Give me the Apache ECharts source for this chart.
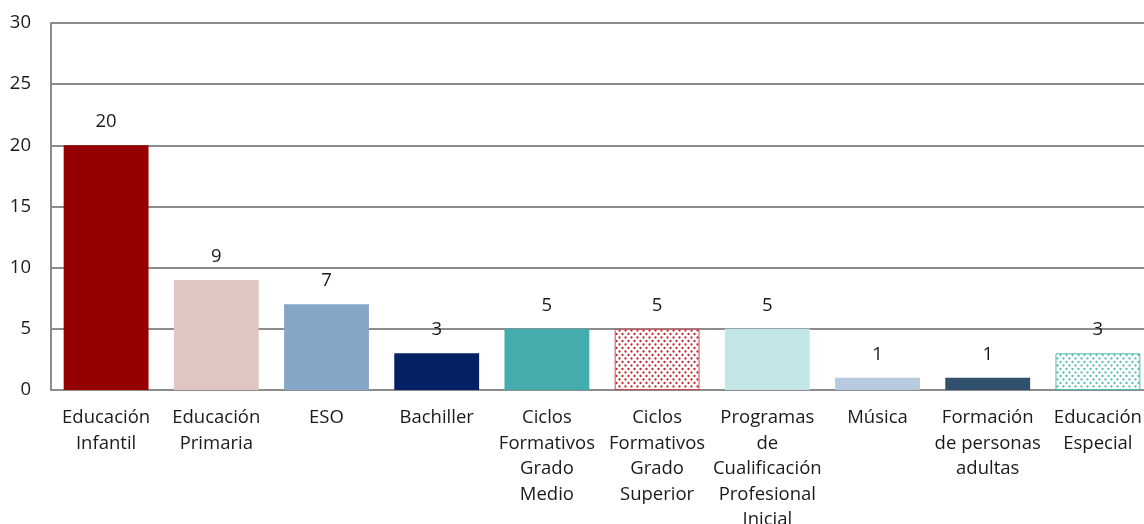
<!DOCTYPE html>
<html>
<head>
<meta charset="utf-8">
<script src="https://cdn.jsdelivr.net/npm/echarts@6/dist/echarts.min.js"></script>
<style>
  html, body { margin: 0; padding: 0; background: #fff; overflow: hidden; }
  #chart { width: 1144px; height: 524px; }
</style>
</head>
<body>
<div id="chart"></div>
<script>
// Categories (line breaks as shown under the axis)
const categories = [
  'Educación\nInfantil',
  'Educación\nPrimaria',
  'ESO',
  'Bachiller',
  'Ciclos\nFormativos\nGrado\nMedio',
  'Ciclos\nFormativos\nGrado\nSuperior',
  'Programas\nde\nCualificación\nProfesional\nInicial',
  'Música',
  'Formación\nde personas\nadultas',
  'Educación\nEspecial'
];
const values = [20, 9, 7, 3, 5, 5, 5, 1, 1, 3];
const yTicks = [0, 5, 10, 15, 20, 25, 30];

// Dotted fill used by the two patterned bars
function dotPattern(dot) {
  const c = document.createElement('canvas');
  c.width = 6; c.height = 7;
  const g = c.getContext('2d');
  g.fillStyle = '#ffffff';
  g.fillRect(0, 0, 6, 7);
  g.fillStyle = dot;
  g.beginPath(); g.arc(1.5, 1.5, 1.15, 0, Math.PI * 2); g.fill();
  g.beginPath(); g.arc(4.5, 5, 1.15, 0, Math.PI * 2); g.fill();
  return { image: c, repeat: 'repeat' };
}

const styles = [
  { color: '#960000' },
  { color: '#e0c6c0' },
  { color: '#86a6c8' },
  { color: '#052165' },
  { color: '#45acad' },
  { color: dotPattern('#c02830'), borderColor: '#c84a52', borderWidth: 1 },
  { color: '#c2e6e6' },
  { color: '#b7cadf' },
  { color: '#30506e' },
  { color: dotPattern('#55beb4'), borderColor: '#4fb8ae', borderWidth: 1 }
];

const chart = echarts.init(document.getElementById('chart'), null, { renderer: 'canvas' });
const font = '"Open Sans", sans-serif';

chart.setOption({
  animation: false,
  textStyle: { fontFamily: font },
  grid: {
    left: 51, right: -9, top: 23, bottom: 134,
    containLabel: false,
    outerBoundsMode: 'none'
  },
  xAxis: {
    type: 'category',
    data: categories,
    axisTick: { show: false },
    axisLine: { show: true, lineStyle: { color: '#8c8c8c', width: 2 } },
    axisLabel: {
      interval: 0,
      margin: 15,
      fontSize: 18.5,
      lineHeight: 25.5,
      color: '#1a1a1a',
      fontFamily: font,
      verticalAlign: 'top'
    }
  },
  yAxis: {
    type: 'value',
    min: yTicks[0],
    max: yTicks[yTicks.length - 1],
    interval: 5,
    axisLine: { show: true, lineStyle: { color: '#8c8c8c', width: 2 } },
    axisTick: { show: false },
    splitLine: { show: true, lineStyle: { color: '#8c8c8c', width: 2 } },
    axisLabel: { fontSize: 18.5, color: '#1a1a1a', margin: 20, fontFamily: font }
  },
  series: [{
    type: 'bar',
    barWidth: '77%',
    data: values.map((v, i) => ({ value: v, itemStyle: styles[i] })),
    label: {
      show: true,
      position: 'top',
      distance: 14,
      fontSize: 18.5,
      color: '#1a1a1a',
      fontFamily: font
    }
  }]
});
</script>
</body>
</html>
